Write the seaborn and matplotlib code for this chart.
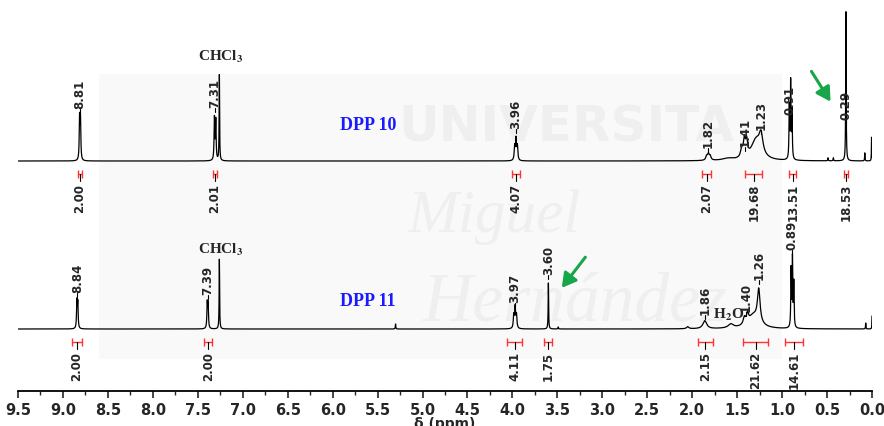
import matplotlib
matplotlib.use("Agg")
import matplotlib.pyplot as plt
import numpy as np
import pandas as pd
import seaborn as sns
from matplotlib.patches import Rectangle

# ---- data (ppm, relative intensity) ----
# DPP 10 (upper trace)
dpp10_shift = [8.815, 8.805, 7.315, 7.300, 7.260, 3.975, 3.960, 3.945,
               1.840, 1.820, 1.800, 1.600, 1.450, 1.420, 1.395, 1.290, 1.235,
               0.920, 0.905, 0.890, 0.490, 0.430, 0.290, 0.080, 0.005]
dpp10_height = [42, 40, 42, 40, 86, 14, 21, 14,
                4, 6, 4, 2, 8, 17, 15, 20, 19,
                52, 76, 48, 3, 3, 150, 8, 24]
dpp10_width = [0.009, 0.009, 0.009, 0.009, 0.006, 0.012, 0.012, 0.012,
               0.022, 0.022, 0.022, 0.150, 0.030, 0.025, 0.025, 0.130, 0.050,
               0.008, 0.008, 0.008, 0.006, 0.006, 0.006, 0.005, 0.004]

# DPP 11 (lower trace)
dpp11_shift = [8.845, 8.835, 7.395, 7.385, 7.260, 5.300, 3.985, 3.970, 3.955,
               3.600, 3.490, 2.050, 1.860, 1.570, 1.420, 1.385, 1.320, 1.260,
               0.900, 0.885, 0.870, 0.070, 0.000]
dpp11_height = [27, 25, 25, 24, 70, 5, 13, 21, 13,
                46, 2, 2, 8, 4, 7, 9, 13, 33,
                58, 68, 44, 6, 13]
dpp11_width = [0.009, 0.009, 0.009, 0.009, 0.006, 0.006, 0.012, 0.012, 0.012,
               0.006, 0.006, 0.030, 0.050, 0.070, 0.030, 0.025, 0.150, 0.035,
               0.008, 0.008, 0.008, 0.005, 0.004]

# peak picking labels
dpp10_peaks = ["8.81", "7.31", "3.96", "1.82", "1.41", "1.23", "0.91", "0.29"]
dpp10_label_y = [53, 54, 33, 14, 15, 32, 47, 42]
dpp11_peaks = ["8.84", "7.39", "3.97", "3.60", "1.86", "1.40", "1.26", "0.89"]
dpp11_label_y = [37, 35, 27, 55, 15, 18, 50, 80]

# integrals: (from, to, value)
dpp10_int_from = [8.83, 7.33, 4.00, 1.89, 1.41, 0.92, 0.31]
dpp10_int_to = [8.79, 7.29, 3.92, 1.79, 1.22, 0.84, 0.27]
dpp10_int_val = ["2.00", "2.01", "4.07", "2.07", "19.68", "13.51", "18.53"]
dpp11_int_from = [8.90, 7.43, 4.06, 3.65, 1.94, 1.43, 0.97]
dpp11_int_to = [8.79, 7.34, 3.89, 3.56, 1.77, 1.16, 0.77]
dpp11_int_val = ["2.00", "2.00", "4.11", "1.75", "2.15", "21.62", "14.61"]

TOP_BASE = 230
BOT_BASE = 62

ppm = np.linspace(9.5, 0.0, 12000)


def spectrum(shifts, heights, widths):
    y = np.zeros_like(ppm)
    for s, h, w in zip(shifts, heights, widths):
        y += h / (1 + ((ppm - s) / (w / 2)) ** 2)
    return y


y10 = spectrum(dpp10_shift, dpp10_height, dpp10_width)
y11 = spectrum(dpp11_shift, dpp11_height, dpp11_width)

df = pd.concat([
    pd.DataFrame({"ppm": ppm, "y": y10 + TOP_BASE, "sample": "DPP 10"}),
    pd.DataFrame({"ppm": ppm, "y": y11 + BOT_BASE, "sample": "DPP 11"}),
])

sns.set_theme(style="white")
plt.rcParams["font.family"] = ["DejaVu Sans"]
plt.rcParams["mathtext.fontset"] = "stix"

fig = plt.figure(figsize=(8.84, 4.27), dpi=100)
ax = fig.add_axes([18 / 884, 35 / 427, 854 / 884, 382 / 427])

# faint watermark
ax.add_patch(Rectangle((1.0, 32), 7.6, 285, facecolor="#f9f9f9",
                       edgecolor="none", zorder=0))
ax.text(3.4, 265, "UNIVERSITA", fontsize=36, fontweight="bold",
        color="#efefef", ha="center", va="center", zorder=0)
ax.text(4.2, 175, "Miguel", fontsize=44, style="italic",
        family="Liberation Serif", color="#efefef", ha="center",
        va="center", zorder=0)
ax.text(3.3, 88, "Hernández", fontsize=50, style="italic",
        family="Liberation Serif", color="#efefef", ha="center",
        va="center", zorder=0)

sns.lineplot(data=df, x="ppm", y="y", hue="sample", units="sample",
             estimator=None, sort=False, palette=["black", "black"],
             linewidth=0.9, legend=False, ax=ax, zorder=3)


def peak_labels(labels, ypos, base):
    for lab, yl in zip(labels, ypos):
        x = float(lab)
        ax.plot([x, x], [base + yl - 5, base + yl - 1], color="black",
                lw=0.8, zorder=4)
        ax.text(x, base + yl, lab, rotation=90, ha="center", va="bottom",
                fontsize=8.5, fontweight="bold", zorder=5)


def integrals(x0s, x1s, vals, base):
    for a, b, v in zip(x0s, x1s, vals):
        c = (a + b) / 2
        yb = base - 13
        ax.errorbar([c], [yb], xerr=[[a - c], [c - b]], fmt="none",
                    ecolor="#ff3333", elinewidth=1.0, capsize=3,
                    capthick=1.0, zorder=4)
        ax.plot([c, c], [yb, yb - 7], color="black", lw=0.8, zorder=4)
        ax.text(c, yb - 9, v, rotation=90, ha="center", va="top",
                fontsize=8.5, fontweight="bold", zorder=5)


peak_labels(dpp10_peaks, dpp10_label_y, TOP_BASE)
peak_labels(dpp11_peaks, dpp11_label_y, BOT_BASE)
integrals(dpp10_int_from, dpp10_int_to, dpp10_int_val, TOP_BASE)
integrals(dpp11_int_from, dpp11_int_to, dpp11_int_val, BOT_BASE)

serif = dict(family=["Liberation Serif", "DejaVu Serif"], fontweight="bold")
ax.text(7.24, 335, r"CHCl$_\mathbf{3}$", fontsize=11, ha="center",
        va="center", **serif)
ax.text(7.24, 142, r"CHCl$_\mathbf{3}$", fontsize=11, ha="center",
        va="center", **serif)
ax.text(1.59, 77, r"H$_\mathbf{2}$O", fontsize=11, ha="center",
        va="center", **serif)
ax.text(5.60, 267, "DPP 10", fontsize=13, color="#1a1aff", ha="center",
        va="center", **serif)
ax.text(5.61, 91, "DPP 11", fontsize=13, color="#1a1aff", ha="center",
        va="center", **serif)

green = "#17a64a"
ax.annotate("", xy=(0.445, 287), xytext=(0.69, 322),
            arrowprops=dict(arrowstyle="-|>,head_length=0.7,head_width=0.4",
                            color=green, lw=2.2))
ax.annotate("", xy=(3.47, 101), xytext=(3.17, 136),
            arrowprops=dict(arrowstyle="-|>,head_length=0.7,head_width=0.4",
                            color=green, lw=2.2))

ax.set_xlim(9.5, 0.0)
ax.set_ylim(0, 382)
ax.set_yticks([])
ax.set_ylabel("")
for s in ["top", "left", "right"]:
    ax.spines[s].set_visible(False)
ax.spines["bottom"].set_color("black")
ax.spines["bottom"].set_linewidth(1.3)
ax.set_xticks(np.arange(0, 9.51, 0.5))
ax.set_xticks(np.arange(0, 9.51, 0.25), minor=True)
ax.set_xticklabels([f"{v:.1f}" for v in np.arange(0, 9.51, 0.5)],
                   fontsize=10.5, fontweight="bold")
ax.tick_params(axis="x", which="major", direction="out", length=5,
               width=1.2, pad=3, bottom=True)
ax.tick_params(axis="x", which="minor", direction="out", length=3,
               width=1.0, bottom=True)
ax.set_xlabel("δ (ppm)", fontsize=10, fontweight="bold", labelpad=-1)
ax.patch.set_alpha(0)

fig.savefig("out.png", dpi=100)
